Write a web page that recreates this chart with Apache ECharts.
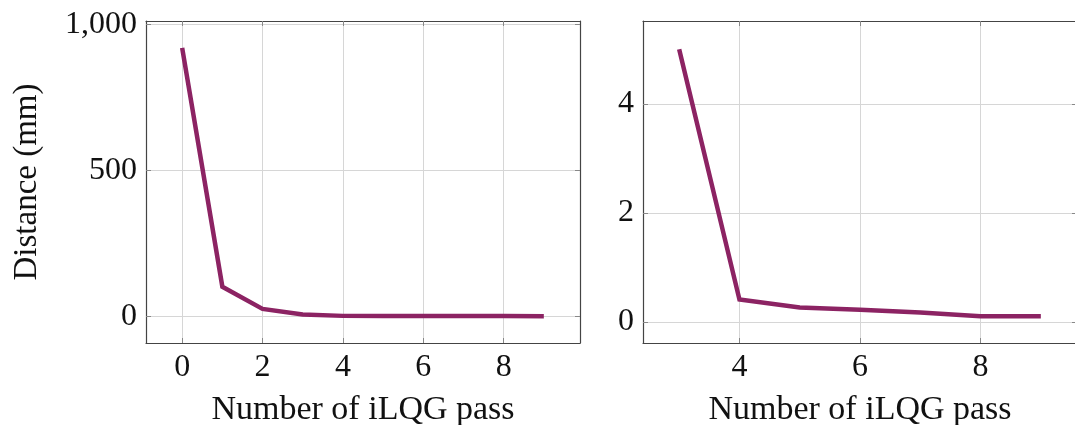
<!DOCTYPE html>
<html>
<head>
<meta charset="utf-8">
<script src="https://cdn.jsdelivr.net/npm/echarts@6/dist/echarts.min.js"></script>
<style>html,body{margin:0;padding:0;background:#fff}#c{width:1075px;height:425px}</style>
</head>
<body>
<div id="c"></div>
<script>
// Left panel: all passes
const leftPasses = [0, 1, 2, 3, 4, 5, 6, 7, 8, 9];
const leftDistance = [920, 101, 25, 6, 1, 0.5, 0.4, 0.3, 0.2, 0.1];
// Right panel: zoom from pass 3
const rightPasses = [3, 4, 5, 6, 7, 8, 9];
const rightDistance = [5.0, 0.41, 0.26, 0.22, 0.17, 0.1, 0.1];
// Tick values
const leftXTicks = [0, 2, 4, 6, 8];
const leftYTicks = [0, 500, 1000];
const rightXTicks = [4, 6, 8];
const rightYTicks = [0, 2, 4];
const xTitle = 'Number of iLQG pass';
const yTitle = 'Distance (mm)';

const FONT = 'Liberation Serif';
const LINE = '#8c2363';
const AX = '#444444';
const GRIDC = '#d6d6d6';

function pair(a, b) { return a.map((v, i) => [v, b[i]]); }

function xAx(gi, min, max, ticks, pos, showLbl, name) {
  return {
    type: 'value', gridIndex: gi, position: pos, min: min, max: max,
    axisLine: { show: true, onZero: false, lineStyle: { color: AX, width: 1.2 } },
    axisTick: { show: true, inside: true, length: 5, customValues: ticks, lineStyle: { color: '#888', width: 1 } },
    axisLabel: { show: showLbl, customValues: ticks, margin: 9, fontFamily: FONT, fontSize: 32, color: '#111' },
    splitLine: { show: pos === 'bottom', lineStyle: { color: GRIDC, width: 1 } },
    name: name || '', nameLocation: 'middle', nameGap: 50,
    nameTextStyle: { fontFamily: FONT, fontSize: 34, color: '#111' }
  };
}
function yAx(gi, min, max, ticks, pos, showLbl, fmt, name) {
  return {
    type: 'value', gridIndex: gi, position: pos, min: min, max: max,
    axisLine: { show: true, onZero: false, lineStyle: { color: AX, width: 1.2 } },
    axisTick: { show: true, inside: true, length: 5, customValues: ticks, lineStyle: { color: '#888', width: 1 } },
    axisLabel: { show: showLbl, customValues: ticks, margin: 9, fontFamily: FONT, fontSize: 32, color: '#111', formatter: fmt },
    splitLine: { show: pos === 'left', lineStyle: { color: GRIDC, width: 1 } },
    name: name || '', nameLocation: 'middle', nameGap: 102, nameRotate: 90,
    nameTextStyle: { fontFamily: FONT, fontSize: 33, color: '#111' }
  };
}
const commaFmt = v => Number(v).toLocaleString('en-US');

const chart = echarts.init(document.getElementById('c'), null, { renderer: 'canvas' });
chart.setOption({
  animation: false,
  backgroundColor: '#fff',
  grid: [
    { left: 146, top: 21, width: 434, height: 322, outerBoundsMode: 'none', containLabel: false },
    { left: 643, top: 21, width: 434, height: 322, outerBoundsMode: 'none', containLabel: false }
  ],
  xAxis: [
    xAx(0, -0.9, 9.9, leftXTicks, 'bottom', true, xTitle),
    xAx(0, -0.9, 9.9, leftXTicks, 'top', false),
    xAx(1, 2.4, 9.6, rightXTicks, 'bottom', true, xTitle),
    xAx(1, 2.4, 9.6, rightXTicks, 'top', false)
  ],
  yAxis: [
    yAx(0, -92, 1012, leftYTicks, 'left', true, commaFmt, yTitle),
    yAx(0, -92, 1012, leftYTicks, 'right', false),
    yAx(1, -0.39, 5.52, rightYTicks, 'left', true, v => String(v)),
    yAx(1, -0.39, 5.52, rightYTicks, 'right', false)
  ],
  series: [
    { type: 'line', xAxisIndex: 0, yAxisIndex: 0, data: pair(leftPasses, leftDistance),
      showSymbol: false, lineStyle: { color: LINE, width: 4.5, join: 'miter' } },
    { type: 'line', xAxisIndex: 2, yAxisIndex: 2, data: pair(rightPasses, rightDistance),
      showSymbol: false, lineStyle: { color: LINE, width: 4.5, join: 'miter' } }
  ]
});
</script>
</body>
</html>
